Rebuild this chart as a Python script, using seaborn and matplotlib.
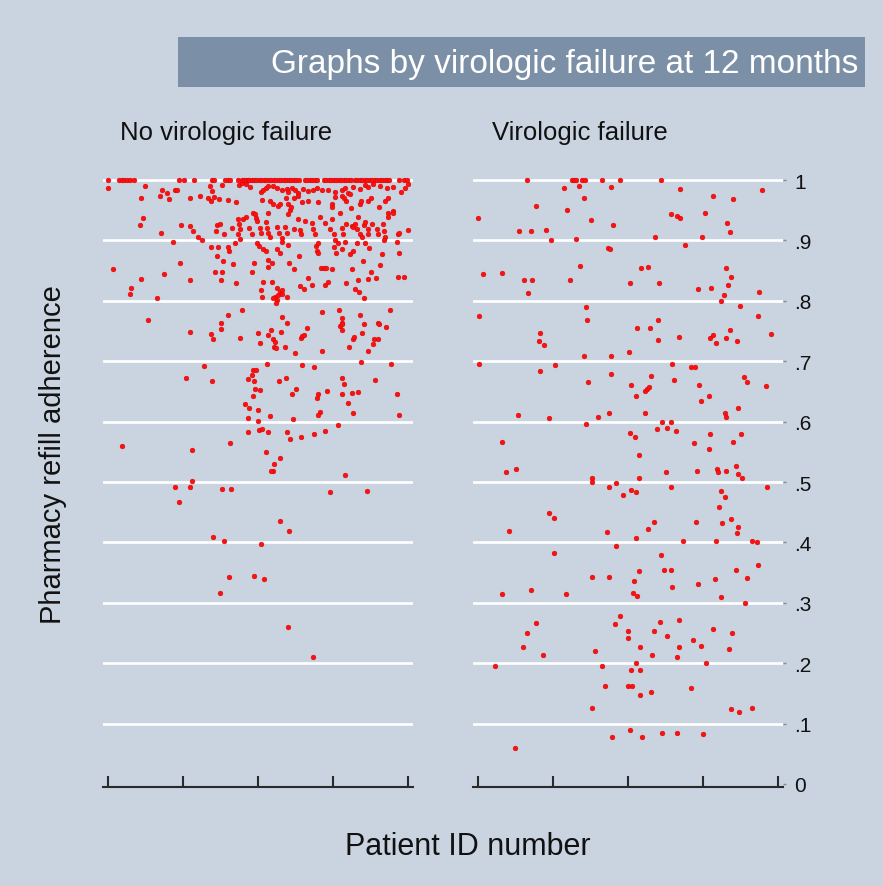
import matplotlib
matplotlib.use("Agg")
import matplotlib.pyplot as plt
from matplotlib.patches import Rectangle
import pandas as pd
import seaborn as sns

# patients with full adherence (1.0), by patient id
nofail_full_ids = [0, 11, 14, 16, 19, 22, 26, 71, 76, 86, 104, 106, 117, 120, 122,
                   130, 134, 136, 138, 140, 141, 144, 146, 148, 151, 153, 156, 158,
                   161, 163, 166, 168, 171, 173, 176, 178, 181, 183, 186, 188, 191,
                   197, 199, 202, 204, 207, 209, 216, 218, 221, 223, 226, 228, 231,
                   233, 236, 238, 241, 243, 247, 249, 252, 254, 257, 259, 262, 264,
                   267, 269, 272, 274, 277, 279, 281, 291, 296, 299]
fail_full_ids = [49, 94, 96, 98, 104, 107, 124, 142, 183]

# (patient id, adherence) for the rest
nofail_points = [
    (0, .986), (37, .99), (54, .983), (59, .979), (52, .974), (61, .968), (67, .983), (69, .984),
    (33, .97), (82, .97), (92, .974), (100, .971), (102, .99), (104, .982), (103, .965), (106, .972),
    (111, .968), (114, .991), (120, .967), (128, .963), (131, .991), (134, .995), (138, .994), (142, .989),
    (153, .981), (155, .983), (158, .986), (160, .99), (165, .99), (169, .986), (174, .983), (179, .985),
    (180, .981), (184, .986), (187, .983), (190, .979), (195, .985), (200, .982), (205, .984), (209, .986),
    (214, .983), (220, .984), (227, .981), (234, .983), (237, .986), (240, .979), (245, .989), (252, .985),
    (257, .992), (260, .989), (265, .994), (272, .99), (279, .986), (285, .989), (293, .98), (297, .987),
    (300, .993), (154, .967), (162, .966), (165, .96), (170, .957), (172, .961), (178, .971), (180, .961),
    (186, .971), (190, .974), (194, .964), (200, .966), (210, .964), (224, .96), (224, .956), (227, .972),
    (234, .974), (236, .971), (238, .966), (242, .977), (243, .954), (252, .961), (253, .966), (260, .966),
    (263, .971), (271, .956), (277, .966), (280, .971), (285, .948), (280, .946),
    (35, .937), (32, .926), (53, .912), (73, .926), (82, .924), (85, .916), (65, .898), (90, .905),
    (94, .901), (109, .926), (112, .927), (108, .916), (116, .911), (124, .921), (130, .936), (131, .927),
    (132, .919), (130, .91), (132, .903), (135, .936), (138, .939), (141, .92), (144, .91), (145, .946),
    (147, .943), (148, .937), (149, .932), (152, .921), (153, .913), (158, .93), (159, .921), (160, .913),
    (162, .905), (160, .946), (169, .922), (171, .913), (174, .904), (177, .922), (179, .913), (180, .944),
    (182, .95), (183, .955), (186, .919), (190, .936), (192, .918), (193, .911), (197, .933), (204, .929),
    (205, .919), (207, .911), (212, .938), (217, .929), (222, .919), (224, .935), (226, .911), (227, .9),
    (232, .945), (234, .921), (235, .911), (238, .928), (244, .924), (245, .922), (247, .927), (249, .919),
    (250, .938), (252, .911), (254, .906), (256, .925), (257, .93), (260, .919), (260, .911), (264, .928),
    (269, .919), (270, .911), (275, .927), (276, .916), (277, .905), (280, .938), (285, .946), (290, .911),
    (291, .913), (300, .917),
    (72, .862), (103, .889), (110, .889), (109, .875), (115, .866), (120, .889), (121, .883), (125, .861),
    (127, .896), (107, .848), (114, .848), (113, .834), (128, .829), (82, .834), (56, .845), (33, .836),
    (23, .821), (22, .811), (49, .804), (5, .852), (144, .847), (146, .863), (149, .895), (151, .89),
    (155, .885), (158, .883), (160, .867), (160, .856), (164, .862), (169, .886), (172, .879), (174, .897),
    (180, .892), (181, .862), (186, .852), (191, .875), (192, .824), (196, .819), (200, .837), (204, .826),
    (208, .89), (209, .882), (210, .895), (210, .879), (213, .855), (216, .855), (218, .855), (217, .826),
    (220, .832), (224, .852), (226, .889), (228, .879), (230, .895), (234, .886), (237, .897), (238, .829),
    (242, .878), (244, .852), (245, .883), (247, .819), (249, .895), (250, .835), (251, .815), (255, .866),
    (256, .804), (257, .895), (260, .836), (261, .888), (263, .847), (268, .837), (272, .859), (274, .877),
    (276, .9), (282, .785), (289, .897), (291, .879), (290, .84), (296, .839),
    (153, .818), (154, .807), (155, .831), (164, .831), (167, .807), (169, .821), (170, .81), (172, .815),
    (174, .812), (174, .818), (179, .807), (165, .804), (169, .801), (168, .796),
    (40, .769), (113, .764), (134, .785), (120, .776), (174, .773), (214, .782), (231, .784), (234, .772),
    (252, .776), (270, .764), (234, .763),
    (113, .753), (82, .749), (103, .745), (105, .736), (132, .739), (150, .746), (152, .73), (160, .744),
    (163, .752), (165, .736), (167, .732), (166, .724), (168, .722), (173, .748), (177, .724), (179, .763),
    (187, .714), (193, .738), (194, .741), (196, .744), (199, .755), (214, .717), (232, .759), (234, .761),
    (234, .751), (245, .737), (246, .74), (241, .724), (256, .761), (254, .747), (260, .717), (265, .728),
    (266, .736), (270, .737), (271, .762), (278, .757),
    (96, .692), (78, .672), (104, .667), (140, .67), (144, .677), (145, .685), (148, .686), (146, .667),
    (147, .654), (152, .652), (145, .643), (137, .629), (141, .623), (150, .62), (140, .606), (150, .601),
    (159, .696), (171, .667), (178, .672), (188, .654), (184, .645), (162, .61), (185, .604), (194, .693),
    (206, .69), (210, .645), (209, .639), (212, .616), (210, .611), (219, .651), (234, .673), (236, .663),
    (234, .646), (244, .648), (250, .649), (240, .631), (245, .614), (253, .698), (267, .669), (283, .696),
    (289, .646), (291, .611),
    (140, .582), (151, .586), (154, .588), (160, .582), (179, .582), (182, .571), (193, .574), (206, .58),
    (217, .585), (230, .595), (14, .559), (84, .553), (122, .564), (158, .549), (172, .539), (166, .529),
    (165, .518), (163, .518), (237, .512),
    (84, .502), (67, .491), (82, .491), (114, .488), (123, .489), (71, .467), (222, .483), (259, .485),
    (172, .435), (181, .419), (105, .409), (116, .403), (153, .397), (121, .343), (146, .344), (156, .34),
    (112, .317), (180, .26), (205, .211),
]

fail_points = [
    (86, .987), (101, .99), (133, .988), (202, .985), (235, .973), (255, .969), (284, .983), (106, .97),
    (58, .957), (89, .95), (113, .934), (135, .925), (0, .937), (193, .943), (199, .941), (202, .937),
    (227, .946), (249, .929), (252, .914), (41, .916), (53, .915), (68, .917), (73, .901), (98, .902),
    (177, .906), (224, .906), (207, .893), (130, .887), (132, .885),
    (5, .845), (24, .846), (46, .834), (54, .834), (50, .813), (92, .834), (102, .858), (152, .83),
    (163, .854), (170, .856), (181, .83), (220, .82), (233, .822), (248, .855), (253, .84), (250, .827),
    (246, .809), (243, .8), (281, .814), (1, .775), (108, .79), (109, .768), (180, .769), (262, .791),
    (280, .775),
    (62, .746), (61, .734), (66, .727), (159, .755), (172, .755), (180, .735), (201, .74), (106, .709),
    (133, .709), (151, .716), (232, .739), (235, .744), (238, .73), (248, .738), (252, .752), (259, .734),
    (293, .745), (1, .696), (62, .684), (77, .693),
    (110, .665), (133, .679), (153, .661), (158, .643), (167, .65), (169, .654), (171, .657), (173, .676),
    (196, .669), (194, .696), (213, .69), (217, .69), (221, .661), (231, .643), (223, .634), (266, .674),
    (269, .666), (288, .659), (260, .623), (247, .615), (248, .607),
    (40, .611), (71, .606), (120, .608), (131, .614), (167, .615), (108, .596), (184, .6), (193, .6),
    (179, .588), (189, .59), (198, .585), (152, .581), (157, .574), (232, .58), (263, .579), (216, .564),
    (255, .567), (231, .555), (24, .566), (161, .544),
    (28, .517), (38, .522), (114, .507), (161, .507), (188, .517), (219, .518), (239, .522), (240, .517),
    (248, .518), (258, .526), (260, .514), (264, .506),
    (114, .5), (131, .492), (138, .498), (145, .478), (153, .486), (158, .484), (193, .491), (243, .485),
    (247, .476), (289, .492), (241, .458), (71, .449), (76, .44),
    (31, .419), (129, .418), (170, .422), (176, .434), (218, .433), (244, .432), (253, .439), (260, .426),
    (259, .416), (158, .407), (205, .402), (238, .402), (274, .402), (279, .4), (138, .394),
    (76, .382), (183, .379),
    (161, .352), (186, .354), (193, .355), (258, .354), (280, .363), (114, .342), (131, .342), (156, .336),
    (237, .339), (269, .341), (194, .326), (220, .331),
    (24, .315), (53, .322), (88, .315), (155, .316), (159, .311), (243, .31), (267, .299),
    (142, .278), (137, .265), (182, .269), (201, .271), (58, .266), (49, .25), (150, .254), (150, .242),
    (176, .254), (189, .245), (215, .238), (235, .257), (254, .25), (223, .229), (251, .224), (45, .226),
    (65, .214), (117, .22), (162, .226), (174, .214), (201, .227), (199, .211),
    (17, .196), (158, .201), (228, .2), (124, .196), (153, .189), (162, .189),
    (127, .163), (150, .162), (154, .163), (162, .148), (173, .153), (213, .159),
    (114, .125), (253, .124), (261, .12), (274, .125),
    (152, .089), (134, .077), (164, .077), (184, .085), (199, .085), (225, .083),
    (37, .06),
]

panel_titles = ["No virologic failure", "Virologic failure"]
y_ticks = [0, .1, .2, .3, .4, .5, .6, .7, .8, .9, 1]
y_tick_labels = ["0", ".1", ".2", ".3", ".4", ".5", ".6", ".7", ".8", ".9", "1"]
x_ticks = [0, 75, 150, 225, 300]


def make_frame(points, full_ids):
    df = pd.DataFrame(points, columns=["patient_id", "adherence"])
    full = pd.DataFrame({"patient_id": full_ids, "adherence": 1.0})
    return pd.concat([df, full], ignore_index=True)


df_nofail = make_frame(nofail_points, nofail_full_ids)
df_fail = make_frame(fail_points, fail_full_ids)

bg = "#c9d4e0"
sns.set_theme(style="white")
plt.rcParams["font.family"] = ["Liberation Sans", "DejaVu Sans"]

fig = plt.figure(figsize=(8.83, 8.87), dpi=100, facecolor=bg)

W, H = 883, 887
def px_rect(x0, x1, y_top, y_bot):
    return [x0 / W, 1 - y_bot / H, (x1 - x0) / W, (y_bot - y_top) / H]

ax1 = fig.add_axes(px_rect(103, 413, 175, 788))
ax2 = fig.add_axes(px_rect(473, 783, 175, 788))

for ax, df in [(ax1, df_nofail), (ax2, df_fail)]:
    ax.set_facecolor(bg)
    sns.scatterplot(data=df, x="patient_id", y="adherence", ax=ax, color="#ff1010",
                    edgecolor="#d00000", linewidth=0.3, s=12, zorder=3)
    ax.set_xlim(-5, 305)
    ax.set_ylim(-0.005, 1.01)
    ax.set_yticks(y_ticks)
    ax.set_xticks(x_ticks)
    ax.set_xticklabels([])
    ax.grid(axis="y", color="white", linewidth=1.9, zorder=1)
    ax.get_ygridlines()[0].set_visible(False)
    ax.set_axisbelow(True)
    for side in ["top", "right", "left"]:
        ax.spines[side].set_visible(False)
    ax.spines["bottom"].set_color("#2a2a2a")
    ax.spines["bottom"].set_linewidth(1.5)
    ax.tick_params(axis="x", bottom=True, direction="in", length=8, width=1.5,
                   color="#2a2a2a")
    ax.set_xlabel("")
    ax.set_ylabel("")

ax1.tick_params(axis="y", left=False, labelleft=False)
ax2.yaxis.tick_right()
ax2.set_yticklabels(y_tick_labels)
ax2.tick_params(axis="y", right=True, length=2, width=1, color="#8a8a8a",
                pad=6, labelsize=15, labelcolor="#111111")

# banner title
fig.patches.append(Rectangle((178 / W, 1 - 88 / H), (865 - 178) / W, 50 / H,
                             transform=fig.transFigure, facecolor="#7b8fa6",
                             edgecolor="none", zorder=0))
fig.text(858 / W, 1 - 64 / H, "Graphs by virologic failure at 12 months",
         ha="right", va="center", color="white", fontsize=24)

fig.text(120 / W, 1 - 133 / H, panel_titles[0], ha="left", va="center",
         fontsize=18.5, color="#111111")
fig.text(492 / W, 1 - 133 / H, panel_titles[1], ha="left", va="center",
         fontsize=18.5, color="#111111")

fig.text(53 / W, 1 - 455 / H, "Pharmacy refill adherence", rotation=90,
         ha="center", va="center", fontsize=21, color="#111111")
fig.text(468 / W, 1 - 847 / H, "Patient ID number", ha="center", va="center",
         fontsize=22, color="#111111")

fig.savefig("out.png", dpi=100, facecolor=bg)
